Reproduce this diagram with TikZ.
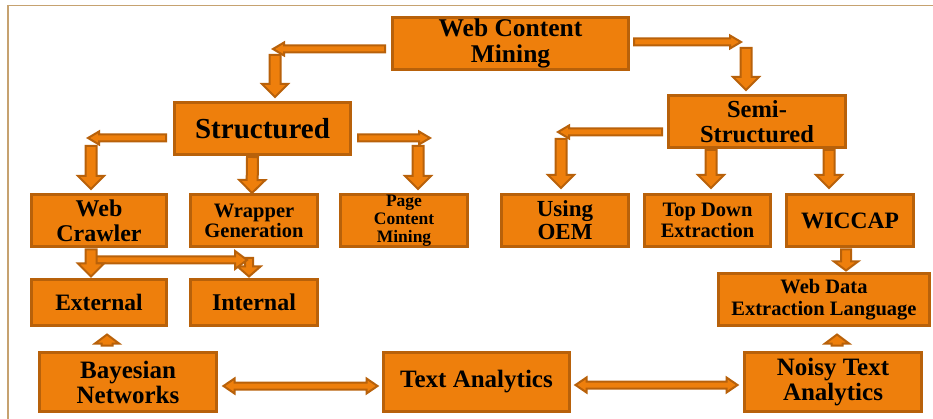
\documentclass[tikz,border=0pt]{standalone}
\usepackage{fontspec}
\setmainfont{Liberation Serif}
\usetikzlibrary{calc}

\definecolor{boxfill}{RGB}{238,127,12}
\definecolor{boxline}{RGB}{184,97,10}
\definecolor{framecol}{RGB}{198,162,112}

\newcommand\fsz[2]{\bfseries\fontsize{#1}{#2}\selectfont}

\tikzset{
  box/.style={draw=boxline, fill=boxfill, line width=3pt, inner sep=0pt,
    align=center, text=black},
  barrow/.style={draw=boxline, fill=boxfill, line width=2pt, line join=miter},
}

% block arrow: #1 shaft half-width, #2 head half-width, #3 head length, #4 from, #5 to
\newcommand\blockarrow[5]{%
  \path[barrow] let \p1=#4, \p2=#5,
      \n1={veclen(\x2-\x1,\y2-\y1)}, \n2={(\x2-\x1)/\n1}, \n3={(\y2-\y1)/\n1} in
    ({\x1-#1*\n3},{\y1+#1*\n2})
 -- ({\x2-#3*\n2-#1*\n3},{\y2-#3*\n3+#1*\n2})
 -- ({\x2-#3*\n2-#2*\n3},{\y2-#3*\n3+#2*\n2})
 -- (\p2)
 -- ({\x2-#3*\n2+#2*\n3},{\y2-#3*\n3-#2*\n2})
 -- ({\x2-#3*\n2+#1*\n3},{\y2-#3*\n3-#1*\n2})
 -- ({\x1+#1*\n3},{\y1-#1*\n2}) -- cycle;}

% block arrow with a head at both ends
\newcommand\twowayarrow[5]{%
  \path[barrow] let \p1=#4, \p2=#5,
      \n1={veclen(\x2-\x1,\y2-\y1)}, \n2={(\x2-\x1)/\n1}, \n3={(\y2-\y1)/\n1} in
    (\p1)
 -- ({\x1+#3*\n2-#2*\n3},{\y1+#3*\n3+#2*\n2})
 -- ({\x1+#3*\n2-#1*\n3},{\y1+#3*\n3+#1*\n2})
 -- ({\x2-#3*\n2-#1*\n3},{\y2-#3*\n3+#1*\n2})
 -- ({\x2-#3*\n2-#2*\n3},{\y2-#3*\n3+#2*\n2})
 -- (\p2)
 -- ({\x2-#3*\n2+#2*\n3},{\y2-#3*\n3-#2*\n2})
 -- ({\x2-#3*\n2+#1*\n3},{\y2-#3*\n3-#1*\n2})
 -- ({\x1+#3*\n2+#1*\n3},{\y1+#3*\n3-#1*\n2})
 -- ({\x1+#3*\n2+#2*\n3},{\y1+#3*\n3-#2*\n2}) -- cycle;}

\newcommand\slimarrow[2]{\blockarrow{3.5}{6.5}{11}{#1}{#2}}
\newcommand\widearrow[2]{\blockarrow{5.5}{13}{13}{#1}{#2}}

\begin{document}
\begin{tikzpicture}[x=1pt,y=-1pt]
\useasboundingbox (0,0) rectangle (933,419);

% page frame
\draw[framecol, line width=1.2pt] (7,5.5) -- (933,5.5);
\draw[framecol, line width=2pt] (8,5) -- (8,419);

% boxes
\node[box, minimum width=236pt, minimum height=52pt, font=\fsz{25.5}{26}] (wcm) at (510.5,43.5) {Web Content\\Mining};
\node[box, minimum width=176pt, minimum height=52pt, font=\fsz{29}{30}] (str) at (262.5,128.5) {Structured};
\node[box, minimum width=177pt, minimum height=52pt, font=\fsz{24.5}{25}] (semi) at (757,121.5) {Semi-\\Structured};

\node[box, minimum width=135pt, minimum height=52pt, font=\fsz{24}{25}] (crawler) at (99,220.5) {Web\\Crawler};
\node[box, minimum width=127pt, minimum height=52pt, font=\fsz{20.5}{20}] (wrapper) at (254,220.5) {Wrapper\\Generation};
\node[box, minimum width=127pt, minimum height=52pt, font=\fsz{17.5}{18}] (page) at (404,220.5) {Page\\Content\\Mining};
\node[box, minimum width=127pt, minimum height=52pt, font=\fsz{23}{23}] (oem) at (565,220.5) {Using\\OEM};
\node[box, minimum width=126pt, minimum height=52pt, font=\fsz{20.5}{21}] (topdown) at (707.5,220.5) {Top Down\\Extraction};
\node[box, minimum width=127pt, minimum height=52pt, font=\fsz{23.5}{24}] (wiccap) at (850,220.5) {WICCAP};

\node[box, minimum width=135pt, minimum height=46pt, font=\fsz{23.5}{24}] (external) at (99,302.5) {External};
\node[box, minimum width=127pt, minimum height=46pt, font=\fsz{24}{24}] (internal) at (254,302.5) {Internal};
\node[box, minimum width=211pt, minimum height=52pt, font=\fsz{20.5}{22}] (wdel) at (824,299.5) {Web Data\\Extraction Language};

\node[box, minimum width=177pt, minimum height=59pt, font=\fsz{25}{25}] (bayes) at (128,382) {Bayesian\\Networks};
\node[box, minimum width=186pt, minimum height=59pt, font=\fsz{25}{25}] (ta) at (476.5,382) {Text Analytics};
\node[box, minimum width=177pt, minimum height=59pt, font=\fsz{25}{25}] (noisy) at (833,382) {Noisy Text\\Analytics};

% elbow points
\coordinate (e1) at (275,49);
\coordinate (e2) at (746,42);
\coordinate (e3) at (91,138);
\coordinate (e4) at (418,138);
\coordinate (e5) at (561,132);
\coordinate (e6) at (249,260);

% Web Content Mining -> Structured / Semi-Structured
\slimarrow{($(wcm.west |- e1)+(-6,0)$)}{($(e1)+(-2,0)$)}
\widearrow{($(e1)+(0,6)$)}{($(str.north -| e1)+(0,-4)$)}
\slimarrow{($(wcm.east |- e2)+(4,0)$)}{($(e2)+(-5,0)$)}
\widearrow{($(e2)+(0,6)$)}{($(semi.north -| e2)+(0,-4)$)}

% Structured -> children
\slimarrow{($(str.west |- e3)+(-7,0)$)}{($(e3)+(-3,0)$)}
\widearrow{($(e3)+(0,8)$)}{($(crawler.north -| e3)+(0,-4)$)}
\widearrow{($(str.south)+(-10,1)$)}{($(wrapper.north)+(-2,0)$)}
\slimarrow{($(str.east |- e4)+(6,0)$)}{($(e4)+(12,0)$)}
\widearrow{($(e4)+(0,8)$)}{($(page.north -| e4)+(0,-4)$)}

% Semi-Structured -> children
\slimarrow{($(semi.west |- e5)+(-5,0)$)}{($(e5)+(-3,0)$)}
\widearrow{($(e5)+(0,7)$)}{($(oem.north -| e5)+(0,-5)$)}
\widearrow{($(semi.south -| topdown.north)+(3.5,1)$)}{($(topdown.north)+(3.5,-5)$)}
\widearrow{($(semi.south)+(72,1)$)}{($(wiccap.north -| semi.south)+(72,-5)$)}

% Web Crawler -> External / Internal
\blockarrow{4}{11.5}{10}{($(e6)+(0,-2)$)}{($(internal.north -| e6)+(0,-1.5)$)}
\blockarrow{3.5}{9}{12}{($(e6 -| crawler.south)+(-5,0)$)}{($(e6)+(-2,0)$)}
\widearrow{($(crawler.south)+(-8,1.5)$)}{($(external.north)+(-8,-1.5)$)}

% WICCAP -> Web Data Extraction Language
\blockarrow{5}{12}{9}{($(wiccap.south)+(-4,1.5)$)}{($(wdel.north -| wiccap.south)+(-4,-1.5)$)}

% bottom row upward arrows
\blockarrow{5.5}{12}{9}{($(bayes.north)+(-21,-5.5)$)}{($(external.south -| bayes.north)+(-21,7.5)$)}
\blockarrow{5.5}{12}{9}{($(noisy.north)+(4,-5.5)$)}{($(wdel.south -| noisy.north)+(4,7.5)$)}

% two-way links
\twowayarrow{3.5}{7.5}{11}{($(bayes.east)+(5.5,4)$)}{($(ta.west)+(-4.5,4)$)}
\twowayarrow{3.5}{7.5}{11}{($(ta.east)+(4.5,3)$)}{($(noisy.west)+(-5.5,3)$)}
\end{tikzpicture}
\end{document}
